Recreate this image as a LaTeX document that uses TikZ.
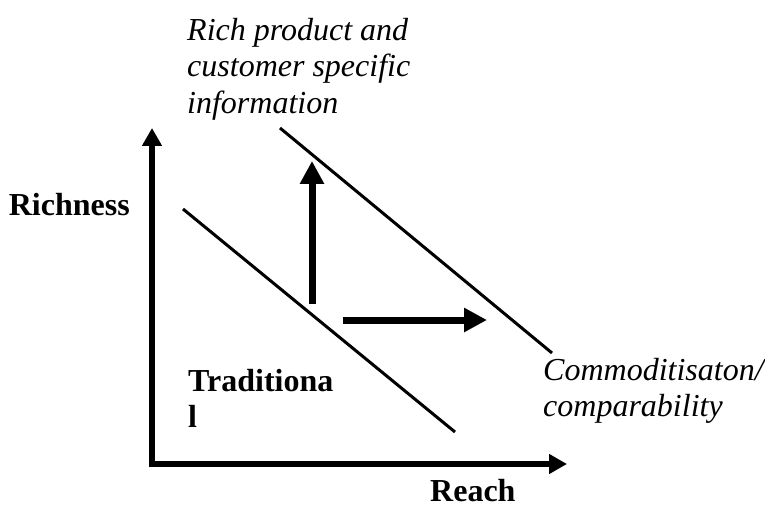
\documentclass[tikz,border=0pt]{standalone}
\usepackage{fontspec}
\setmainfont{Liberation Serif}
\usetikzlibrary{arrows.meta}

\begin{document}
\begin{tikzpicture}[x=1pt,y=-1pt]
\tikzset{axis/.style={line width=6pt,-{Triangle[length=18pt,width=19pt]}},
  level/.style={line width=3pt},
  movearrow/.style={line width=7pt,-{Triangle[length=23pt,width=23pt]}},
  lbl/.style={inner sep=0pt,font=\fontsize{32}{36.5}\selectfont\bfseries},
  note/.style={inner sep=0pt,align=left,font=\fontsize{32}{36.5}\selectfont\itshape}}
\useasboundingbox (0,0) rectangle (765,505);
\coordinate (O) at (152,464);
\coordinate (ytip) at (152,128);
\coordinate (xtip) at (567,464);
\draw[axis] ([yshift=3pt]O) -- (ytip);
\draw[axis] ([xshift=-3pt]O) -- (xtip);
\coordinate (tradA) at (183,209); \coordinate (tradB) at (455,432);
\coordinate (richA) at (280,128); \coordinate (richB) at (552,353);
\draw[level] (tradA) -- (tradB);
\draw[level] (richA) -- (richB);
\coordinate (up0) at (312,304); \coordinate (up1) at (312,161);
\coordinate (rt0) at (343,320); \coordinate (rt1) at (487,320);
\draw[movearrow] (up0) -- (up1);
\draw[movearrow] (rt0) -- (rt1);
\node[lbl,anchor=base east] (richness) at (130,215) {Richness};
\node[lbl,anchor=base west] (reach) at (430,501) {Reach};
\node[lbl,align=left,anchor=north west] (trad) at (188,369) {Traditiona\\l};
\node[note,anchor=north west] (rich) at (187,18) {Rich product and\\customer specific\\information};
\node[note,anchor=north west] (comm) at (543,358) {Commoditisaton/\\comparability};
\end{tikzpicture}
\end{document}
